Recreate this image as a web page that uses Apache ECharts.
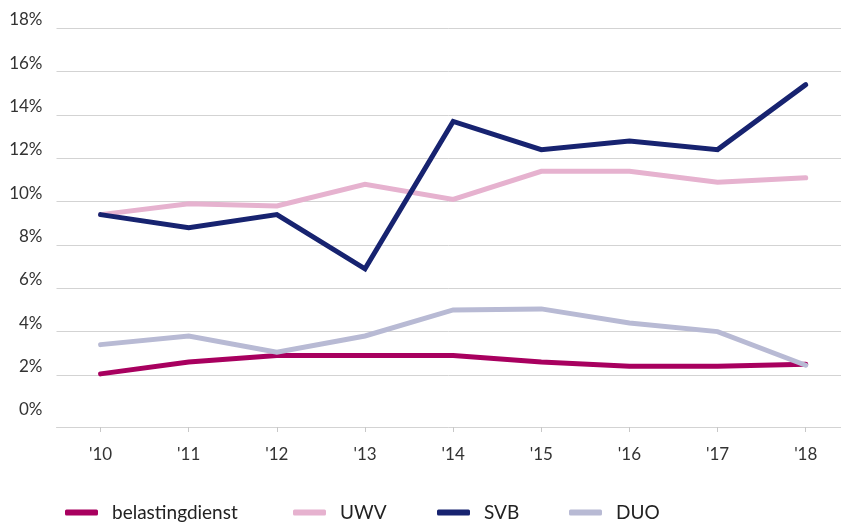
<!DOCTYPE html>
<html><head><meta charset="utf-8">
<script src="https://cdn.jsdelivr.net/npm/echarts@6/dist/echarts.min.js"></script>
<style>html,body{margin:0;padding:0;background:#fff}#c{width:841px;height:522px}</style>
</head><body><div id="c"></div>
<script>
var categories = ["'10","'11","'12","'13","'14","'15","'16","'17","'18"];
var belastingdienst = [2.05, 2.6, 2.9, 2.9, 2.9, 2.6, 2.4, 2.4, 2.5];
var uwv = [9.4, 9.9, 9.8, 10.8, 10.1, 11.4, 11.4, 10.9, 11.1];
var svb = [9.4, 8.8, 9.4, 6.9, 13.7, 12.4, 12.8, 12.4, 15.4];
var duo = [3.4, 3.8, 3.05, 3.8, 5.0, 5.05, 4.4, 4.0, 2.45];
var yTicks = [0, 2, 4, 6, 8, 10, 12, 14, 16, 18];

var names = ['belastingdienst', 'UWV', 'SVB', 'DUO'];
var colors = ['#A8005F', '#E6B2CF', '#172370', '#B8BAD4'];
var datas = [belastingdienst, uwv, svb, duo];
var font = 'Lato, "Noto Sans", sans-serif';
var idx = categories.map(function (c, i) { return i; });
var legendLeft = [65, 293, 437, 569];

function xAx(gridIndex, extra) {
  var base = {
    type: 'value', gridIndex: gridIndex, min: -0.5, max: 8.4,
    splitLine: { show: false },
    axisLine: { show: false }, axisTick: { show: false }, axisLabel: { show: false }
  };
  for (var k in extra) base[k] = extra[k];
  return base;
}

var chart = echarts.init(document.getElementById('c'));
chart.setOption({
  animation: false,
  grid: [
    { left: 56.5, top: 28.3, right: 0, bottom: 103.7 },
    { left: 56.5, top: 423, right: 0, bottom: 95 }
  ],
  legend: names.map(function (n, i) {
    return {
      left: legendLeft[i], top: 503, padding: 0,
      itemWidth: 33, itemHeight: 6,
      icon: 'roundRect',
      textStyle: { fontFamily: font, fontSize: 19, color: '#222', padding: [0, 0, 0, 9] },
      data: [n]
    };
  }),
  xAxis: [
    xAx(0, {}),
    xAx(1, {
      position: 'bottom',
      axisLine: { show: true, onZero: false, lineStyle: { color: '#d3d3d3', width: 1 } },
      axisTick: { show: true, length: 5, customValues: idx, lineStyle: { color: '#c8c8c8' } },
      axisLabel: {
        show: true, customValues: idx, fontFamily: font, fontSize: 17, color: '#333', margin: 19,
        formatter: function (v) { return categories[Math.round(v)]; }
      }
    }),
    xAx(1, {
      position: 'top',
      axisTick: { show: true, inside: true, length: 4, customValues: idx, lineStyle: { color: '#c8c8c8' } }
    })
  ],
  yAxis: [
    {
      type: 'value', gridIndex: 0, min: yTicks[0], max: yTicks[yTicks.length - 1], interval: 2,
      axisLine: { show: false }, axisTick: { show: false },
      splitLine: { show: true, showMinLine: false, lineStyle: { color: '#d3d3d3', width: 1 } },
      axisLabel: { fontFamily: font, fontSize: 17, color: '#333', margin: 14, verticalAlign: 'bottom', formatter: '{value}%' }
    },
    {
      type: 'value', gridIndex: 1, min: 0, max: 1,
      axisLine: { show: false }, axisTick: { show: false }, axisLabel: { show: false }, splitLine: { show: false }
    }
  ],
  series: names.map(function (n, i) {
    return {
      name: n, type: 'line', xAxisIndex: 0, yAxisIndex: 0,
      data: datas[i].map(function (v, j) { return [idx[j], v]; }),
      showSymbol: false, symbol: 'none',
      itemStyle: { color: colors[i] },
      lineStyle: { color: colors[i], width: 5, cap: 'round', join: 'miter' },
      z: i === 1 ? 1 : 2
    };
  })
});
</script></body></html>
